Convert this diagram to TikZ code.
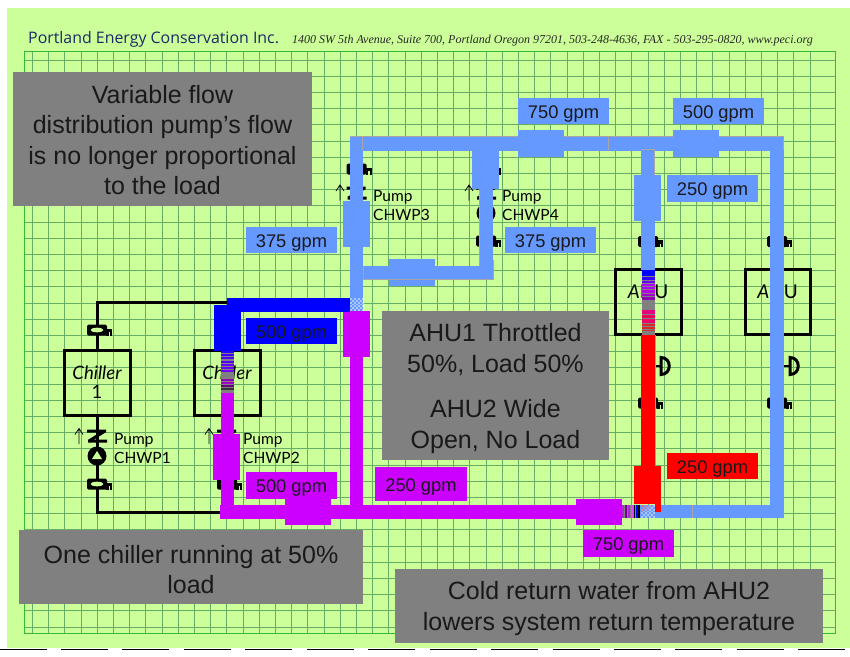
\documentclass[tikz,border=0pt]{standalone}
\usepackage{fontspec}
\setmainfont{Liberation Sans}
\newfontfamily\hdrfont{Open Sans}
\newfontfamily\addrfont{Liberation Serif}
\newfontfamily\handfont{Lato}
\definecolor{bg}{HTML}{CCFF99}
\definecolor{gridc}{HTML}{66AD66}
\definecolor{gridb}{HTML}{33BB33}
\definecolor{cold}{HTML}{6699FF}
\definecolor{warm}{HTML}{CC00FF}
\definecolor{prim}{HTML}{0000FF}
\definecolor{hot}{HTML}{FF0000}
\definecolor{panel}{HTML}{808080}
\definecolor{navy}{HTML}{1A2A66}
\tikzset{
  panelbox/.style={fill=panel,draw=none,inner sep=0pt},
  paneltext/.style={inner sep=0pt,align=center,font=\fontsize{25}{30.3}\selectfont,text=black!90},
  flowlabel/.style={draw=none,inner sep=0pt,text height=14pt,text depth=0pt,font=\fontsize{18.3}{20}\selectfont,text=black!90},
  equip/.style={draw=black,line width=3pt,fill=none,inner sep=0pt,align=center,font=\handfont\itshape\fontsize{18.5}{20}\selectfont},
  pumptext/.style={inner sep=0pt,anchor=west,align=left,font=\handfont\fontsize{15.5}{19}\selectfont},
  blackpipe/.style={draw=black,line width=3pt},
  thinedge/.style={draw=gray!70,line width=0.5pt},
}
% filled rectangle from px corners
\newcommand{\pipefill}[5]{\fill[#1] (#2,#3) rectangle (#4,#5);}
% balancing valve
\newcommand{\balvalve}[2]{%
  \fill[black,rounded corners=1.5pt] (#1-10,#2-5.5) rectangle (#1+10,#2+5.5);
  \fill[bg] (#1,#2) ellipse[x radius=6.5,y radius=2.3];
  \fill[black] (#1+9,#2-1.5) rectangle (#1+15,#2+5.5);
  \fill[bg] (#1+11.5,#2+2) rectangle (#1+13,#2+5.5);
}
\newcommand{\checkv}[2]{%
  \draw[black,line width=3pt] (#1-10,#2-5) -- (#1+9,#2-5) (#1-9,#2+5) -- (#1+10,#2+5) (#1+8,#2-5) -- (#1-8,#2+5);
}
\newcommand{\pumpsym}[2]{%
  \fill[black] (#1,#2) circle (9.5);
  \fill[bg] (#1,#2-5) -- (#1+5,#2+3) -- (#1-5,#2+3) -- cycle;
}
\newcommand{\uparr}[2]{%
  \draw[black,line width=0.8pt] (#1,#2+15.5) -- (#1,#2) (#1-4,#2+6) -- (#1,#2) -- (#1+4,#2+6);
}
\newcommand{\dvalve}[2]{%
  \draw[black,line width=2.2pt] (#1,#2) -- (#1+6,#2);
  \draw[black,line width=3pt] (#1+6,#2-8.5) .. controls (#1+17,#2-8.5) and (#1+17,#2+8.5) .. (#1+6,#2+8.5) -- cycle;
}
\begin{document}
\begin{tikzpicture}[x=1pt,y=-1pt]
\useasboundingbox (0,0) rectangle (850,656);
\fill[white] (0,0) rectangle (850,656);
\fill[bg] (7,8) rectangle (850,648);
% bottom dashes
\foreach \i in {0,...,13} { \fill[black] ({-0.5+61.45*\i},648.6) rectangle ({46.5+61.45*\i},650); }
% grid
\foreach \i in {1,...,49} { \draw[gridc,line width=1pt] ({16.2*\i+16.2},51) -- ({16.2*\i+16.2},633); }
\foreach \i in {0,...,35} { \draw[gridc,line width=1pt] (24,{60+16.2*\i}) -- (835,{60+16.2*\i}); }
\draw[gridb,line width=1pt] (24,51) rectangle (835,633);
% header
\node[inner sep=0pt,anchor=base west,text=navy,font=\hdrfont\fontsize{15.9}{16}\selectfont] (brand) at (28,43) {Portland Energy Conservation Inc.};
\node[inner sep=0pt,anchor=base west,text=black!85,font=\addrfont\itshape\fontsize{12}{12}\selectfont] (addr) at (292,43.3) {1400 SW 5th Avenue, Suite 700, Portland Oregon 97201, 503-248-4636, FAX - 503-295-0820, www.peci.org};
% black chilled water piping
\coordinate (tl) at (97,302); \coordinate (tr) at (240,302);
\coordinate (bl) at (97,512); \coordinate (br) at (225,512);
\draw[blackpipe] (tr) -- (tl) -- (97,350);
\draw[blackpipe] (97,415) -- (bl) -- (br);
% equipment
\node[equip,minimum width=66pt,minimum height=65pt] (ch1) at (97,382.5) {Chiller\\[-1pt]\upshape 1};
\node[equip,minimum width=66pt,minimum height=65pt] (ch2) at (227,382.5) {Chiller\\[-1pt]\phantom{1}};
\node[equip,minimum width=66pt,minimum height=65pt,font=\handfont\fontsize{19}{20}\selectfont] (ahu1) at (648,301.5) {{\itshape A}HU\\[-1pt]\phantom{1}};
\node[equip,minimum width=65pt,minimum height=65pt,font=\handfont\fontsize{19}{20}\selectfont] (ahu2) at (777.5,301.5) {{\itshape A}HU\\[-1pt]\phantom{1}};
% pump sets
\balvalve{97}{330}\checkv{97}{436}\pumpsym{97}{456}\balvalve{97}{484}\uparr{79}{428.5}
\node[pumptext] (p1) at (114,448.5) {Pump\\CHWP1};
\checkv{227}{436}\balvalve{227}{484}\uparr{209}{428.5}
\node[pumptext] (p2) at (243,448.5) {Pump\\CHWP2};
\balvalve{356.5}{169}\checkv{356.5}{193}\uparr{340}{185}
\node[pumptext] (p3) at (373,206) {Pump\\CHWP3};
\balvalve{486}{169}\checkv{486}{193}\pumpsym{486}{213}\balvalve{486}{241}\uparr{469}{185}
\node[pumptext] (p4) at (502,206) {Pump\\CHWP4};
\balvalve{648}{241.5}\balvalve{648}{403}\dvalve{655}{366}
\balvalve{777}{241.5}\balvalve{777}{403}\dvalve{784}{366}
% --- pipes: light blue
\pipefill{cold}{350}{136.5}{783.5}{150.5}
\pipefill{cold}{350}{136.5}{363}{311}
\pipefill{cold}{770}{136.5}{783.5}{518}
\pipefill{cold}{655}{505}{783.5}{518}
\pipefill{cold}{641}{149}{654.5}{270}
\pipefill{cold}{479}{150}{493}{279}
\pipefill{cold}{363}{266}{493}{279}
\pipefill{cold}{518}{130}{564}{157}
\pipefill{cold}{673}{130}{719}{157}
\pipefill{cold}{634}{175}{661}{221}
\pipefill{cold}{343}{201}{370}{247}
\pipefill{cold}{472}{151}{499}{189}
\pipefill{cold}{389}{259}{435}{286}
\draw[thinedge] (350,136.5) -- (518,136.5) (564,136.5) -- (673,136.5) (719,136.5) -- (783.5,136.5) -- (783.5,150);
\draw[thinedge] (362.6,137) -- (362.6,150) (608.5,137) -- (608.5,150) (641,149.5) -- (654.5,149.5) (654.5,150) -- (654.5,175);
\draw[thinedge] (363,266) -- (363,279) -- (493,279) -- (493,260) (479,266) -- (479,190);
% --- purple
\pipefill{warm}{350}{311}{363}{518}
\pipefill{warm}{220}{505}{622}{518.5}
\pipefill{warm}{221}{393}{233.5}{505}
\pipefill{warm}{343}{311}{370}{357}
\pipefill{warm}{213}{434}{240}{480}
\pipefill{warm}{285}{499}{331}{525}
\pipefill{warm}{576}{499}{622}{525}
% --- dark blue
\pipefill{prim}{227}{298}{350}{312}
\pipefill{prim}{214}{305}{241}{351}
% --- red
\pipefill{hot}{641}{335}{654.5}{470}
\pipefill{hot}{634}{466}{661}{504}
\pipefill{hot}{655}{500}{661}{512}
\draw[thinedge] (654.8,335) -- (654.8,466);
% transition stripes, AHU1
\fill[gray] (642,270) rectangle (654.5,335);
\foreach \y/\h/\c in {270/6/prim,277/3/prim!75!warm,281/2/prim!50!warm,284/2/warm!85!prim,287/2/warm!85!prim,290/3/warm!90!black,294/2/warm!80!black,297/3/warm!70!black,
  310/4/warm!50!hot,315/3/warm!35!hot,319/4/hot!60!warm,324/1.5/hot!70!gray,327/1.5/hot!70!gray,330/1/hot!60!gray}
  { \fill[\c] (642,\y) rectangle (654.5,\y+\h); }
\fill[hot] (641,334.5) rectangle (654.5,336);
% transition stripes, chiller 2
\fill[gray] (221,351) rectangle (233.5,393);
\foreach \y/\h/\c in {351/1.5/prim!80!warm,354/1.5/prim!70!warm,357/2/prim!60!warm,361/1.5/prim!60!warm,364/1.5/prim!50!warm,367/1.5/prim!50!warm,370/1.5/prim!45!warm,379/1.5/black!30!warm,382/1.5/warm!80!black,385/1.5/black!50!warm,388/1.5/black!60!gray}
  { \fill[\c] (221,\y) rectangle (233.5,\y+\h); }
% transition stripes, return main
\fill[gray] (622,505) rectangle (640,518);
\foreach \x/\w/\c in {622/1.5/warm!70!gray,625/1.5/warm!60!black,628/2/warm!70!gray,631/1.5/warm!70!white,634/1/black,636/1.5/prim,638/1.5/black}
  { \fill[\c] (\x,505) rectangle (\x+\w,518); }
\fill[cold] (640,505) rectangle (655,518);
% dithered mixing zones
\foreach \i in {0,...,6} \foreach \j in {0,...,6} {
  \pgfmathtruncatemacro{\parity}{mod(\i+\j,2)}
  \ifnum\parity=0
    \fill[white,opacity=.45] ({349.5+2*\i},{298+1.85*\j}) rectangle ++(2,1.85);
    \fill[white,opacity=.45] ({641+2*\i},{505+1.85*\j}) rectangle ++(2,1.85);
    \fill[hot!70!white,opacity={max(0,.75-.12*\i-.15*\j)}] ({641+2*\i},{505+1.85*\j}) rectangle ++(2,1.85);
  \fi
}
\draw[thinedge] (692.5,505) -- (692.5,518);
% panels
\node[panelbox,minimum width=299pt,minimum height=134pt] (n1) at (162.5,139) {};
\node[paneltext] (t1) at (162.5,140.2) {Variable flow\\distribution pump’s flow\\is no longer proportional\\to the load};
\node[panelbox,minimum width=227pt,minimum height=149pt] (n2) at (495.5,385.5) {};
\node[paneltext] (t2) at (495.5,388.5) {AHU1 Throttled\\50\%, Load 50\%\\[15.5pt]AHU2 Wide\\Open, No Load};
\node[panelbox,minimum width=344pt,minimum height=74pt] (n3) at (191,567) {};
\node[paneltext] (t3) at (191,569.5) {One chiller running at 50\%\\load};
\node[panelbox,minimum width=428pt,minimum height=74pt] (n4) at (609,606) {};
\node[paneltext] (t4) at (609,608.5) {Cold return water from AHU2\\lowers system return temperature};
% flow labels
\node[flowlabel,fill=cold,minimum width=91pt,minimum height=26pt] (f1) at (563.5,111) {750 gpm};
\node[flowlabel,fill=cold,minimum width=91pt,minimum height=26pt] (f2) at (718.5,111) {500 gpm};
\node[flowlabel,fill=cold,minimum width=91pt,minimum height=27pt] (f3) at (712.5,188.5) {250 gpm};
\node[flowlabel,fill=cold,minimum width=91pt,minimum height=26pt] (f4) at (291.5,240) {375 gpm};
\node[flowlabel,fill=cold,minimum width=91pt,minimum height=26pt] (f5) at (550.5,240) {375 gpm};
\node[flowlabel,fill=prim,minimum width=91pt,minimum height=26pt] (f6) at (291.5,331) {500 gpm};
\node[flowlabel,fill=warm,minimum width=91pt,minimum height=27pt] (f7) at (291.5,485.5) {500 gpm};
\node[flowlabel,fill=warm,minimum width=92pt,minimum height=34pt] (f8) at (421,484) {250 gpm};
\node[flowlabel,fill=hot,minimum width=91pt,minimum height=26pt] (f9) at (712.5,466) {250 gpm};
\node[flowlabel,fill=warm,minimum width=91pt,minimum height=27pt] (f10) at (628.5,543.5) {750 gpm};
\end{tikzpicture}
\end{document}
